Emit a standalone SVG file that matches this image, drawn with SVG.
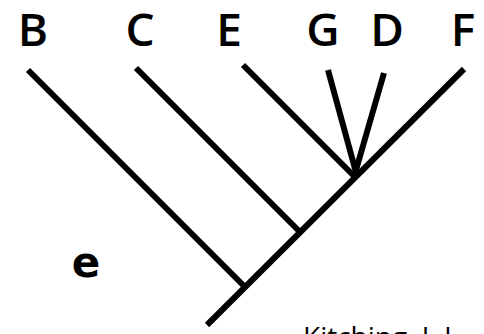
<svg xmlns="http://www.w3.org/2000/svg" width="484" height="334" viewBox="0 0 484 334">
  <style>
    .branch { stroke: #000; stroke-width: 6; stroke-linecap: butt; fill: none; }
    .taxon { font-family: "Open Sans", "Noto Sans", sans-serif; font-weight: 600; font-size: 46px; fill: #000; text-anchor: middle; }
    .mark { font-family: "DejaVu Sans", sans-serif; font-weight: 700; font-size: 42px; fill: #000; text-anchor: middle; }
    .credit { font-family: "Open Sans", "Noto Sans", sans-serif; font-size: 28px; fill: #000; }
  </style>
  <rect width="484" height="334" fill="#fff"/>

  <!-- branches of the tree -->
  <g id="connectors">
    <line class="branch" x1="207" y1="325" x2="464" y2="69"/>
    <line class="branch" x1="28" y1="70" x2="246" y2="288"/>
    <line class="branch" x1="136" y1="68" x2="301" y2="233"/>
    <line class="branch" x1="243" y1="65" x2="356" y2="178"/>
    <line class="branch" x1="328" y1="70" x2="357" y2="176"/>
    <line class="branch" x1="384" y1="73" x2="354" y2="177"/>
  </g>

  <!-- terminal taxa -->
  <g id="node-B"><text class="taxon" x="33" y="46">B</text></g>
  <g id="node-C"><text class="taxon" x="140" y="46">C</text></g>
  <g id="node-E"><text class="taxon" x="229" y="46">E</text></g>
  <g id="node-G"><text class="taxon" x="323" y="46">G</text></g>
  <g id="node-D"><text class="taxon" x="387" y="46">D</text></g>
  <g id="node-F"><text class="taxon" x="463" y="46">F</text></g>

  <g id="label-e"><text class="mark" x="86" y="277">e</text></g>
  <g id="credit"><text class="credit" x="303" y="347">Kitching, J. L.</text></g>
</svg>
